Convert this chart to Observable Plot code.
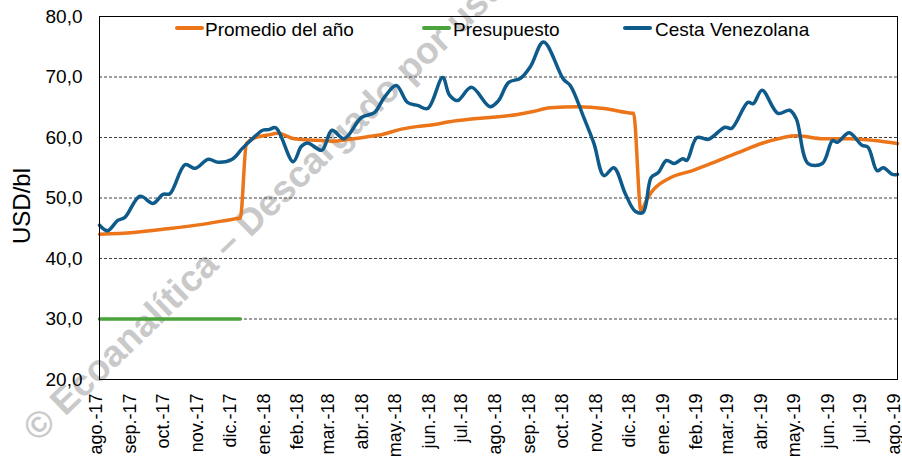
<!DOCTYPE html>
<html>
<head>
<meta charset="utf-8">
<script src="https://cdn.jsdelivr.net/npm/d3@7"></script>
<script src="https://cdn.jsdelivr.net/npm/@observablehq/plot@0.6"></script>
<style>
  body { margin: 0; background: #fff; }
  #wrap { position: relative; width: 902px; height: 456px; font-family: "Liberation Sans", Arial, sans-serif; overflow: hidden; }
  #wm { position: absolute; left: 0; top: 0; }
  #chart { position: absolute; left: 0; top: 0; }
  .leg { position: absolute; top: 20px; font-size: 19px; line-height: 1; color: #000; white-space: nowrap; }
  .sw { position: absolute; top: 26px; width: 29px; height: 4px; border-radius: 2px; }
  #ylab { position: absolute; left: 22px; top: 206px; font-size: 24px; line-height: 1; transform: translate(-50%, -50%) rotate(-90deg); transform-origin: center; white-space: nowrap; }
</style>
</head>
<body>
<div id="wrap">
  <svg id="wm" width="902" height="456">
    <text transform="translate(38,443) rotate(-44)" font-family="Liberation Sans, Arial, sans-serif" font-weight="bold" font-size="37" fill="#c9c9c9">© Ecoanalítica – Descargado por usuario</text>
  </svg>
  <div id="chart"></div>
</div>
<script>
// X tick labels (one per month)
const xTickLabels = ["ago.-17","sep.-17","oct.-17","nov.-17","dic.-17","ene.-18","feb.-18","mar.-18","abr.-18","may.-18","jun.-18","jul.-18","ago.-18","sep.-18","oct.-18","nov.-18","dic.-18","ene.-19","feb.-19","mar.-19","abr.-19","may.-19","jun.-19","jul.-19","ago.-19"];
const yTicks = [20, 30, 40, 50, 60, 70, 80];

// Time position in months since 1 Aug 2017
const cestaT = [0,0.24,0.54,0.75,1.2,1.6,1.9,2.11,2.56,2.86,3.25,3.55,3.98,4.28,4.58,4.88,5.06,5.27,5.78,6.02,6.23,6.69,7.02,7.38,7.89,8.28,8.58,8.95,9.28,9.58,9.88,10.33,10.54,10.78,11.2,11.75,12.0,12.3,12.65,12.95,13.34,13.95,14.15,14.55,14.85,15.15,15.45,15.8,16.1,16.33,16.57,16.78,17.02,17.26,17.5,17.62,17.92,18.28,18.83,19.04,19.52,19.68,19.94,20.42,20.78,20.98,21.33,21.75,22.05,22.2,22.56,22.95,23.13,23.4,23.58,23.85,24.0];
const cestaV = [45.5,44.6,46.3,46.8,50.3,49.1,50.6,50.7,55.5,54.9,56.4,55.9,56.4,58.2,59.8,61.2,61.3,61.6,56.0,58.5,59.1,57.9,61.2,59.8,63.3,64.1,66.6,68.6,65.8,65.3,64.8,69.9,67.0,66.1,68.3,65.1,66.1,69.1,69.8,71.8,75.8,69.6,68.6,63.3,59.0,53.7,55.0,50.7,47.8,47.6,53.4,54.2,56.2,55.7,56.5,56.2,60.0,59.7,61.7,61.5,65.8,65.6,67.8,64.0,64.5,63.1,55.7,55.7,59.5,59.2,60.8,58.7,58.4,54.5,55.0,53.9,53.9];

const promT = [0,1,2.02,3.01,4.0,4.22,4.4,4.67,5.03,5.33,5.81,6.33,7.02,7.53,8.04,8.52,9.04,9.55,10.03,10.54,11.14,11.75,12.56,12.95,13.55,14.37,15.15,15.87,16.05,16.27,16.42,16.57,17.08,17.77,18.28,19.19,20.09,20.99,21.78,22.59,23.34,24.0];
const promV = [44.0,44.3,44.9,45.6,46.5,46.7,59.0,60.0,60.4,60.7,59.8,59.6,59.4,59.7,60.1,60.5,61.3,61.8,62.1,62.6,63.0,63.3,63.8,64.2,64.9,65.1,64.8,64.1,64.0,47.8,49.5,50.9,53.2,54.5,55.5,57.4,59.3,60.3,59.8,59.8,59.5,59.0];

const presT = [0, 4.22];
const presV = [30, 30];

function mToDate(m) {
  const mi = Math.floor(m), f = m - mi;
  const d0 = Date.UTC(2017, 7 + mi, 1), d1 = Date.UTC(2017, 8 + mi, 1);
  return new Date(d0 + f * (d1 - d0));
}
const toRows = (T, V) => T.map((t, i) => ({date: mToDate(t), value: V[i]}));
const cesta = toRows(cestaT, cestaV);
const prom = toRows(promT, promV);
const pres = toRows(presT, presV);
const tickDates = xTickLabels.map((_, i) => new Date(Date.UTC(2017, 7 + i, 1)));
const labelFor = d => {
  const i = (d.getUTCFullYear() - 2017) * 12 + d.getUTCMonth() - 7;
  return xTickLabels[i] ?? "";
};

const colors = {prom: "#EB7518", pres: "#4BA33B", cesta: "#0E5A8A"};

const chart = Plot.plot({
  width: 902, height: 456,
  marginLeft: 99, marginRight: 5, marginTop: 16, marginBottom: 77,
  style: {fontFamily: "Liberation Sans, Arial, sans-serif", background: "transparent", color: "#000", overflow: "visible"},
  x: {type: "utc", domain: [tickDates[0], tickDates[tickDates.length - 1]]},
  y: {domain: [20, 80]},
  marks: [
    Plot.ruleY(yTicks.filter(v => v > 20 && v < 80), {stroke: "#404040", strokeWidth: 1, strokeDasharray: "3,2"}),
    Plot.axisY({ticks: yTicks, tickSize: 0, tickPadding: 17, fontSize: 19, tickFormat: d => d.toFixed(1).replace(".", ","), label: null}),
    Plot.axisX({ticks: tickDates, tickSize: 0, tickPadding: 14, tickRotate: -90, fontSize: 18, dx: -3, tickFormat: labelFor, label: null}),
    Plot.line(pres, {x: "date", y: "value", stroke: colors.pres, strokeWidth: 3.5}),
    Plot.line(prom, {x: "date", y: "value", stroke: colors.prom, strokeWidth: 3.5, curve: "monotone-x"}),
    Plot.line(cesta, {x: "date", y: "value", stroke: colors.cesta, strokeWidth: 3.5, curve: "catmull-rom"}),
    Plot.frame({stroke: "#000", strokeWidth: 1})
  ]
});
const wrap = document.getElementById("chart");
wrap.appendChild(chart);

const legendItems = [
  {name: "Promedio del año", color: colors.prom, sw: 175, tx: 205},
  {name: "Presupuesto", color: colors.pres, sw: 422, tx: 453},
  {name: "Cesta Venezolana", color: colors.cesta, sw: 623, tx: 655}
];
const outer = document.getElementById("wrap");
for (const it of legendItems) {
  const s = document.createElement("div");
  s.className = "sw"; s.style.left = it.sw + "px"; s.style.background = it.color;
  outer.appendChild(s);
  const t = document.createElement("div");
  t.className = "leg"; t.style.left = it.tx + "px"; t.textContent = it.name;
  outer.appendChild(t);
}
const yl = document.createElement("div");
yl.id = "ylab"; yl.textContent = "USD/bl";
outer.appendChild(yl);
</script>
</body>
</html>
